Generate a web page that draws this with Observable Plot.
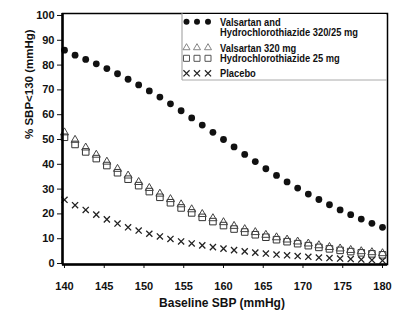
<!DOCTYPE html>
<html>
<head>
<meta charset="utf-8">
<script src="https://cdn.jsdelivr.net/npm/d3@7"></script>
<script src="https://cdn.jsdelivr.net/npm/@observablehq/plot@0.6"></script>
<style>
  html, body { margin: 0; padding: 0; background: #fff; }
  #chart svg { display: block; }
</style>
</head>
<body>
<div id="chart"></div>
<script>
// Baseline systolic blood pressure (mmHg) at which each estimate is shown
const baselineSBP = [140, 141.33, 142.67, 144, 145.33, 146.67, 148, 149.33, 150.67, 152,
  153.33, 154.67, 156, 157.33, 158.67, 160, 161.33, 162.67, 164, 165.33,
  166.67, 168, 169.33, 170.67, 172, 173.33, 174.67, 176, 177.33, 178.67, 180];

// Percent of patients reaching SBP < 130 mmHg
const combo320_25 = [86, 84, 82.3, 80.5, 78.6, 76.5, 74.3, 72, 69.6, 67.1,
  64.4, 61.6, 58.7, 55.8, 52.9, 50, 47, 44, 41.1, 38.2,
  35.5, 32.9, 30.4, 28, 25.8, 23.7, 21.6, 19.7, 17.9, 16.2, 14.6];
const valsartan320 = [52.8, 49.8, 46.7, 43.8, 41, 38.1, 35.4, 32.8, 30.4, 28.1,
  25.9, 23.8, 21.8, 19.9, 18.2, 16.6, 15.1, 13.8, 12.6, 11.5,
  10.5, 9.6, 8.8, 8, 7.3, 6.6, 6, 5.4, 4.9, 4.5, 4.1];
const hctz25 = [50.9, 48, 45, 42.3, 39.5, 36.6, 34, 31.4, 29, 26.7,
  24.5, 22.4, 20.4, 18.6, 16.9, 15.3, 13.9, 12.7, 11.6, 10.6,
  9.6, 8.8, 8, 7.2, 6.5, 5.9, 5.3, 4.8, 4.3, 3.9, 3.5];
const placebo = [25.7, 23.5, 21.6, 19.7, 17.8, 16.1, 14.6, 13.3, 12, 10.9,
  9.9, 8.9, 8.1, 7.3, 6.6, 6, 5.4, 4.9, 4.4, 4, 3.6, 3.3, 3, 2.7, 2.4, 2.2, 2, 1.8, 1.6, 1.4, 1.2];

const xTicks = [140, 145, 150, 155, 160, 165, 170, 175, 180];
const yTicks = [0, 10, 20, 30, 40, 50, 60, 70, 80, 90, 100];

const legendItems = [
  ["Valsartan and", "Hydrochlorothiazide 320/25 mg"],
  ["Valsartan 320 mg"],
  ["Hydrochlorothiazide 25 mg"],
  ["Placebo"]
];

const rows = (ys) => baselineSBP.map((x, i) => ({x, y: ys[i]}));

const FONT = "'Liberation Sans', Arial, Helvetica, sans-serif";

const chart = Plot.plot({
  width: 400,
  height: 315,
  marginLeft: 62,
  marginRight: 13,
  marginTop: 13,
  marginBottom: 51,
  style: {fontFamily: FONT, fontWeight: "bold", color: "#111", background: "#fff"},
  x: {domain: [139.75, 180.63]},
  y: {domain: [-0.4, 100.8]},
  marks: [
    Plot.axisX({ticks: xTicks, tickSize: 4, tickPadding: 14, fontSize: 11, fontWeight: "bold", label: null, tickFormat: d3.format("d")}),
    Plot.axisY({ticks: yTicks, tickSize: 5, tickPadding: 3, fontSize: 11, fontWeight: "bold", label: null}),
    Plot.dot(rows(hctz25), {x: "x", y: "y", symbol: "square", r: 3.7, stroke: "#333", strokeWidth: 1, fill: "none"}),
    Plot.dot(rows(valsartan320), {x: "x", y: "y", symbol: "triangle", r: 3, stroke: "#444", strokeWidth: 1, fill: "none"}),
    Plot.dot(rows(placebo), {x: "x", y: "y", symbol: "times", r: 2.9, stroke: "#222", strokeWidth: 1.3}),
    Plot.dot(rows(combo320_25), {x: "x", y: "y", r: 3.4, fill: "#111", stroke: "none"}),
    Plot.frame({stroke: "#000", strokeWidth: 1.5}),
    Plot.ruleX([139.75], {stroke: "#000", strokeWidth: 2.5}),
    Plot.ruleY([-0.4], {stroke: "#000", strokeWidth: 2.5}),
    Plot.text(["Baseline SBP (mmHg)"], {frameAnchor: "bottom", dy: 39, dx: -3, lineAnchor: "middle", fontSize: 12, fontWeight: "bold", fill: "#111"}),
    Plot.text(["% SBP<130 (mmHg)"], {frameAnchor: "left", dx: -33, rotate: -90, lineAnchor: "middle", fontSize: 11.5, fontWeight: "bold", fill: "#111"})
  ]
});

// Legend box in the upper right corner of the plot frame
const svg = d3.select(chart);
const lg = svg.append("g").attr("class", "legend").attr("text-anchor", "start");
lg.append("rect").attr("x", 182).attr("y", 14).attr("width", 204).attr("height", 66).attr("fill", "#fff");
lg.append("line").attr("x1", 182).attr("x2", 182).attr("y1", 13).attr("y2", 80).attr("stroke", "#999").attr("stroke-width", 1);
lg.append("line").attr("x1", 182).attr("x2", 387).attr("y1", 80).attr("y2", 80).attr("stroke", "#aaa").attr("stroke-width", 1);

const markerX = [186.5, 197, 208];
const rowY = [21.7, 47.7, 58.3, 73.3];
const symbolDefs = [
  {type: d3.symbolCircle, size: Math.PI * 3 * 3, fill: "#111", stroke: "none", sw: 0},
  {type: d3.symbolTriangle, size: Math.PI * 2.6 * 2.6, fill: "none", stroke: "#777", sw: 0.9},
  {type: d3.symbolSquare, size: Math.PI * 3.4 * 3.4, fill: "none", stroke: "#555", sw: 1},
  {type: d3.symbolTimes, size: Math.PI * 2.9 * 2.9, fill: "none", stroke: "#222", sw: 1.2}
];
legendItems.forEach((lines, i) => {
  const s = symbolDefs[i];
  markerX.forEach(mx => {
    lg.append("path")
      .attr("d", d3.symbol(s.type, s.size)())
      .attr("transform", `translate(${mx},${rowY[i]})`)
      .attr("fill", s.fill).attr("stroke", s.stroke).attr("stroke-width", s.sw);
  });
  lines.forEach((t, j) => {
    lg.append("text")
      .attr("transform", `translate(220,${rowY[i] + j * 10.6}) scale(0.85,1)`)
      .attr("dy", "0.35em")
      .attr("text-anchor", "start")
      .attr("font-family", FONT).attr("font-weight", "bold").attr("font-size", 11)
      .attr("fill", "#111")
      .text(t);
  });
});

document.getElementById("chart").appendChild(chart);
</script>
</body>
</html>
